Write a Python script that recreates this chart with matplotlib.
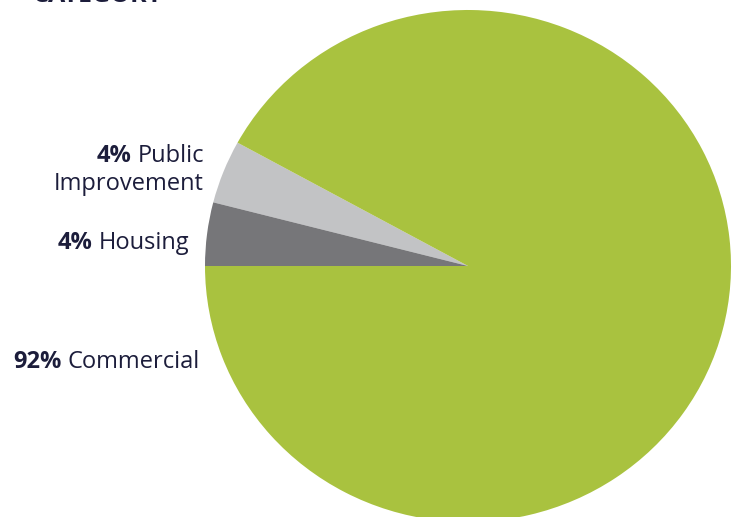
import matplotlib
matplotlib.use("Agg")
import matplotlib.pyplot as plt

categories = ["Public Improvement", "Housing", "Commercial"]
values = [4, 4, 92]
pct_labels = ["4%", "4%", "92%"]
name_labels = ["Public\nImprovement", "Housing", "Commercial"]
colors = ["#C2C3C5", "#767679", "#A9C23F"]
title = "CATEGORY"

W, H = 738, 517
fig = plt.figure(figsize=(W / 100, H / 100), dpi=100)
ax = fig.add_axes([0, 0, 1, 1])
cx, cy, rx, ry = 468, 266, 263, 256
ax.pie(values, colors=colors, startangle=151.2, counterclock=True,
       wedgeprops=dict(linewidth=0))
ax.set_aspect("auto")
ax.set_xlim(-cx / rx, (W - cx) / rx)
ax.set_ylim(-(H - cy) / ry, cy / ry)
ax.axis("off")

txtc = "#1C1D3B"
fam = ["Open Sans", "DejaVu Sans"]
fs = 17

def fx(x):
    return x / W

def fy(y):
    return 1 - y / H

fig.canvas.draw()
renderer = fig.canvas.get_renderer()

def mixed(x_right, y_base, bold, regular):
    t = fig.text(fx(x_right), fy(y_base), regular, ha="right", va="baseline",
                 fontsize=fs, color=txtc, family=fam)
    bb = t.get_window_extent(renderer)
    fig.text(bb.x0 / W - 6 / W, fy(y_base), bold, ha="right", va="baseline",
             fontsize=fs, color=txtc, family=fam, fontweight="bold")

# Public Improvement (two lines)
mixed(204, 162, pct_labels[0], name_labels[0].split("\n")[0])
fig.text(fx(204), fy(190), name_labels[0].split("\n")[1], ha="right",
         va="baseline", fontsize=fs, color=txtc, family=fam)
mixed(189, 249, pct_labels[1], name_labels[1])
mixed(200, 368, pct_labels[2], name_labels[2])

fig.text(fx(33), fy(2.5), title, ha="left", va="baseline", fontsize=18,
         color=txtc, family=fam, fontweight="bold")

fig.savefig("out.png", dpi=100)
